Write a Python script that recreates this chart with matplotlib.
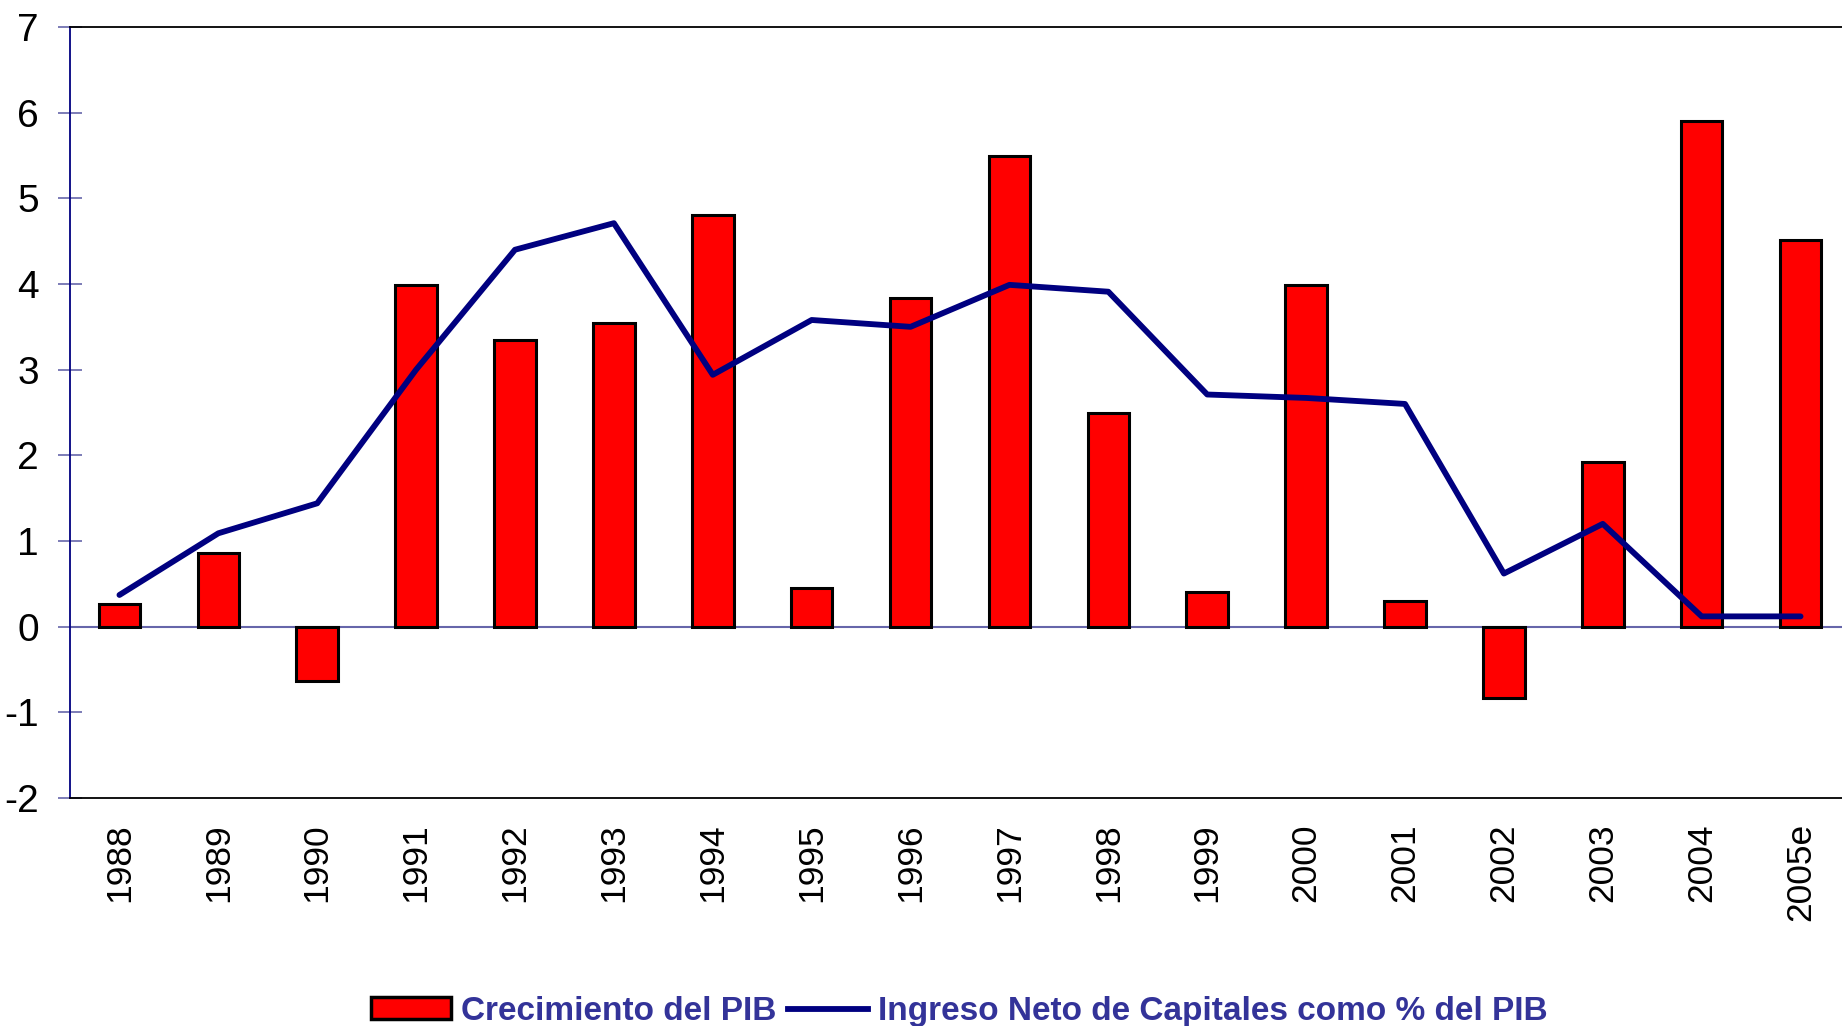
import matplotlib
matplotlib.use("Agg")
import numpy as np
import matplotlib.pyplot as plt
from matplotlib.patches import Patch
from matplotlib.lines import Line2D

# Data
years = ["1988", "1989", "1990", "1991", "1992", "1993", "1994", "1995", "1996",
         "1997", "1998", "1999", "2000", "2001", "2002", "2003", "2004", "2005e"]
pib_growth = [0.26, 0.86, -0.64, 3.99, 3.35, 3.54, 4.81, 0.45, 3.84,
              5.49, 2.49, 0.41, 3.99, 0.30, -0.83, 1.92, 5.90, 4.51]
capital_inflow = [0.37, 1.09, 1.44, 3.00, 4.40, 4.71, 2.94, 3.58, 3.50,
                  3.99, 3.91, 2.71, 2.67, 2.60, 0.62, 1.20, 0.12, 0.12]
y_ticks = [-2, -1, 0, 1, 2, 3, 4, 5, 6, 7]

plt.rcParams['font.family'] = ['Liberation Sans', 'DejaVu Sans']

fig = plt.figure(figsize=(18.42, 10.26), dpi=100)
ax = fig.add_axes([70 / 1842, 1 - 798 / 1026, 1780 / 1842, 771 / 1026])

x = np.arange(len(years))
ax.bar(x, pib_growth, width=0.42, color='#FF0000', edgecolor='black', linewidth=2.2, zorder=3)
ax.axhline(0, color='#6666AA', linewidth=1.5, zorder=2)
ax.plot(x, capital_inflow, color='#000080', linewidth=4.2, solid_capstyle='round', zorder=4)

ax.set_xlim(-0.5, len(years) - 0.5)
ax.set_ylim(-2, 7)
ax.set_yticks(y_ticks)
ax.set_yticklabels([str(t) for t in y_ticks], fontsize=28)
ax.set_xticks(x)
ax.set_xticklabels(years, rotation=90, fontsize=25.5)
ax.tick_params(axis='x', length=0, pad=18)
ax.tick_params(axis='y', direction='inout', length=17, width=1.2, color='#6666AA', pad=14)

ax.spines['left'].set_color('#000080')
ax.spines['left'].set_linewidth(1.3)
ax.spines['top'].set_color('black')
ax.spines['top'].set_linewidth(1.3)
ax.spines['bottom'].set_color('black')
ax.spines['bottom'].set_linewidth(1.3)
ax.spines['right'].set_visible(False)

handles = [Patch(facecolor='#FF0000', edgecolor='black', linewidth=2.5),
           Line2D([0], [0], color='#000080', linewidth=4.2)]
labels = ['Crecimiento del PIB', 'Ingreso Neto de Capitales como % del PIB']
leg = fig.legend(handles, labels, loc='lower center', bbox_to_anchor=(0.521, -0.03), ncol=2,
                 frameon=False, handlelength=2.4, handleheight=0.6, handletextpad=0.3,
                 columnspacing=0.35,
                 prop={'weight': 'bold', 'size': 24})
for t in leg.get_texts():
    t.set_color('#333399')

fig.savefig("out.png", dpi=100)
